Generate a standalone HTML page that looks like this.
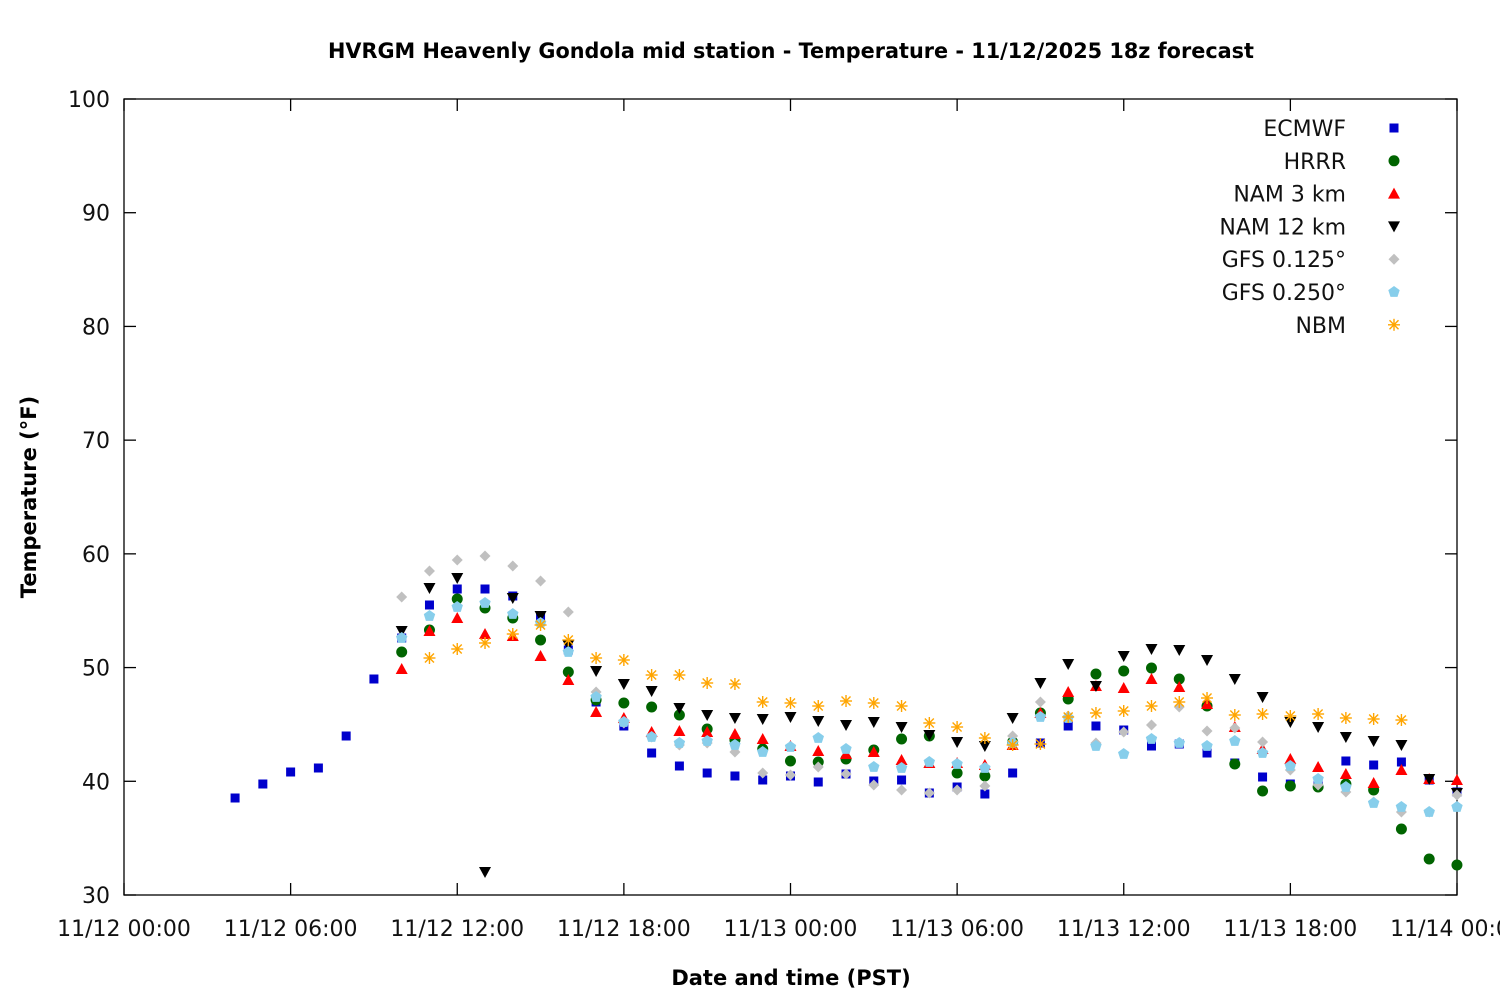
<!DOCTYPE html>
<html><head><meta charset="utf-8"><style>
html,body{margin:0;padding:0;background:#fff;}
svg{display:block;font-family:"DejaVu Sans","Liberation Sans",sans-serif;}
</style></head><body>
<svg id="s" width="1500" height="1000" xmlns="http://www.w3.org/2000/svg">
<rect width="1500" height="1000" fill="#fff"/>
<text x="791" y="58" text-anchor="middle" font-size="21" font-weight="bold" textLength="926" lengthAdjust="spacingAndGlyphs">HVRGM Heavenly Gondola mid station - Temperature - 11/12/2025 18z forecast</text>
<text x="791" y="985" text-anchor="middle" font-size="21" font-weight="bold">Date and time (PST)</text>
<text transform="translate(36,497) rotate(-90)" text-anchor="middle" font-size="21" font-weight="bold">Temperature (°F)</text>
<g id="ax" stroke="#000" stroke-width="1.3" fill="none"></g>
<g id="lb" font-size="22" fill="#111"></g>
<g id="pts"></g>
<g id="leg" font-size="22" fill="#111" text-anchor="end"></g>
</svg>
<script>
const NS="http://www.w3.org/2000/svg";
function el(p,t,a,txt){const e=document.createElementNS(NS,t);for(const k in a)e.setAttribute(k,a[k]);if(txt!=null)e.textContent=txt;p.appendChild(e);return e;}
const ax=document.getElementById('ax'),lb=document.getElementById('lb');
const L=124,R=1457,T=99,B=895;
el(ax,'rect',{x:L,y:T,width:R-L,height:B-T});
for(let i=0;i<=7;i++){const v=30+i*10,y=B-i*(B-T)/7;
 el(ax,'line',{x1:L,y1:y,x2:L+12,y2:y});el(ax,'line',{x1:R,y1:y,x2:R-12,y2:y});
 el(lb,'text',{x:110,y:y+8,'text-anchor':'end'},String(v));}
const xl=["11/12 00:00","11/12 06:00","11/12 12:00","11/12 18:00","11/13 00:00","11/13 06:00","11/13 12:00","11/13 18:00","11/14 00:00"];
for(let i=0;i<=8;i++){const x=L+i*(R-L)/8;
 el(ax,'line',{x1:x,y1:B,x2:x,y2:B-12});el(ax,'line',{x1:x,y1:T,x2:x,y2:T+12});
 el(lb,'text',{x:x,y:936,'text-anchor':'middle'},xl[i]);}
const g=document.getElementById('pts');
function mk(p,type,x,y){
 if(type==0)el(p,'rect',{x:x-4.5,y:y-4.5,width:9,height:9,fill:'#0000cc'});
 else if(type==1)el(p,'circle',{cx:x,cy:y,r:5.5,fill:'#006400'});
 else if(type==2)el(p,'polygon',{points:`${x},${y-6} ${x+6},${y+5} ${x-6},${y+5}`,fill:'#ff0000'});
 else if(type==3)el(p,'polygon',{points:`${x},${y+6} ${x+6},${y-5} ${x-6},${y-5}`,fill:'#000'});
 else if(type==4)el(p,'polygon',{points:`${x},${y-5.5} ${x+5.5},${y} ${x},${y+5.5} ${x-5.5},${y}`,fill:'#c0c0c0'});
 else if(type==5){let s='';for(let k=0;k<5;k++){const a=-Math.PI/2+k*2*Math.PI/5;s+=(x+6*Math.cos(a)).toFixed(1)+','+(y+6*Math.sin(a)).toFixed(1)+' ';}el(p,'polygon',{points:s,fill:'#87ceeb'});}
 else {const gg=el(p,'g',{stroke:'#ffa500','stroke-width':1.4});
  el(gg,'line',{x1:x-6,y1:y,x2:x+6,y2:y});el(gg,'line',{x1:x,y1:y-6,x2:x,y2:y+6});
  el(gg,'line',{x1:x-4.5,y1:y-4.5,x2:x+4.5,y2:y+4.5});el(gg,'line',{x1:x-4.5,y1:y+4.5,x2:x+4.5,y2:y-4.5});}
}
const X=h=>124+27.77*h;
const D=[
[4,[798,784,772,768,736,679,638,605,589,589,596,616,650,702,726,753,766,773,776,780,776,782,774,781,780,793,787,794,773,743,726,726,730,746,744,753,763,777,784,784,761,765,762,780,792]],
[10,[652,630,599,608,618,640,672,700,703,707,715,729,740,749,761,762,759,750,739,736,773,776,742,713,699,674,671,668,679,706,764,791,786,787,784,790,829,859,865]],
[10,[669,631,618,634,636,656,680,712,718,732,731,732,734,739,746,751,754,752,760,763,763,765,745,713,692,686,688,679,687,704,727,749,759,767,774,783,770,779,780]],
[10,[631,588,578,872,598,616,645,671,684,691,708,715,718,719,717,721,725,722,727,735,742,746,718,683,664,686,656,649,650,660,679,697,722,727,737,741,745,779,793]],
[10,[597,571,560,556,566,581,612,692,723,737,745,743,752,773,775,767,774,785,790,793,790,786,736,702,716,743,732,725,707,731,728,742,770,785,792,802,812,812,795]],
[10,[638,616,607,603,614,623,652,697,722,737,743,741,745,752,747,738,749,767,768,762,764,768,743,717,718,746,754,739,743,746,741,753,766,779,787,803,807,812,807]],
[11,[658,649,643,634,625,640,658,660,675,675,683,684,702,703,706,701,703,706,723,727,738,745,744,717,713,711,706,702,698,715,714,716,714,718,719,720]]
];
D.forEach((d,t)=>d[1].forEach((y,i)=>mk(g,t,X(d[0]+i),y)));
const leg=document.getElementById('leg');
const names=["ECMWF","HRRR","NAM 3 km","NAM 12 km","GFS 0.125°","GFS 0.250°","NBM"];
names.forEach((n,i)=>{const y=128+i*32.8;el(leg,'text',{x:1346,y:y+8},n);mk(leg,i,1394,y);});
</script>
</body></html>
